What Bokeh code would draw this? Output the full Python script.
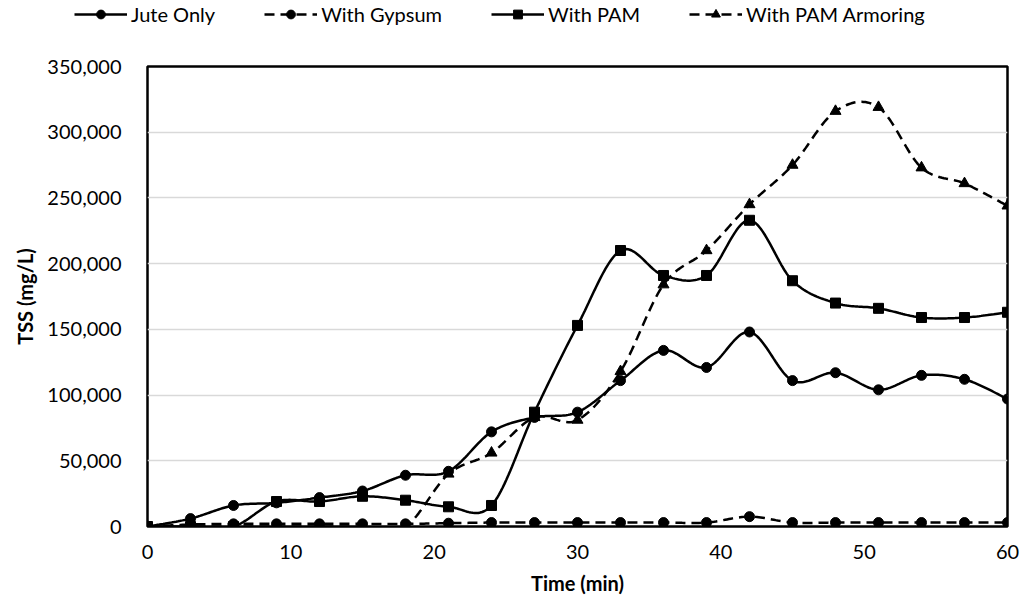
import numpy as np
from bokeh.plotting import figure
from bokeh.layouts import column, row
from bokeh.models import (Legend, LegendItem, NumeralTickFormatter, FixedTicker, Range1d)
from bokeh.embed import file_html
from bokeh.resources import INLINE

# ---- data ----
time_min = [0, 3, 6, 9, 12, 15, 18, 21, 24, 27, 30, 33, 36, 39, 42, 45, 48, 51, 54, 57, 60]
jute_only = [0, 6000, 16000, 18000, 22000, 27000, 39000, 42000, 72000, 83000, 87000,
             111000, 134000, 121000, 148000, 111000, 117000, 104000, 115000, 112000, 97000]
with_gypsum = [0, 1500, 2000, 2000, 2000, 2000, 2000, 2500, 3000, 3000, 3000,
               3000, 3000, 3000, 7500, 3000, 3000, 3000, 3000, 3000, 3000]
with_pam = [0, 0, 0, 19000, 19000, 23000, 20000, 15000, 16000, 87000, 153000,
            210000, 191000, 191000, 233000, 187000, 170000, 166000, 159000, 159000, 163000]
with_pam_armoring = [0, 0, 0, 0, 0, 0, 0, 40000, 56000, 83000, 81000,
                     118000, 184000, 210000, 245000, 275000, 316000, 319000, 273000, 261000, 244000]
y_ticks = [0, 50000, 100000, 150000, 200000, 250000, 300000, 350000]
x_ticks = [0, 10, 20, 30, 40, 50, 60]

series = [
    ("Jute Only", jute_only, "solid", "circle"),
    ("With Gypsum", with_gypsum, "10 6", "circle"),
    ("With PAM", with_pam, "solid", "square"),
    ("With PAM Armoring", with_pam_armoring, "10 6", "triangle"),
]


def smooth(xs, ys, n=24):
    """Excel-like smoothed line (Catmull-Rom as cubic Bezier)."""
    x = np.asarray(xs, float)
    y = np.asarray(ys, float)
    P = np.column_stack([x, y])
    P = np.vstack([P[0], P, P[-1]])
    out = []
    tt = np.linspace(0, 1, n)
    for i in range(1, len(P) - 2):
        p0, p1, p2, p3 = P[i - 1], P[i], P[i + 1], P[i + 2]
        c1 = p1 + (p2 - p0) / 6.0
        c2 = p2 - (p3 - p1) / 6.0
        seg = ((1 - tt) ** 3)[:, None] * p1 + (3 * (1 - tt) ** 2 * tt)[:, None] * c1 \
            + (3 * (1 - tt) * tt ** 2)[:, None] * c2 + (tt ** 3)[:, None] * p2
        if i > 1:
            seg = seg[1:]
        out.append(seg)
    out = np.vstack(out)
    return out[:, 0], out[:, 1]


FONT = "Lato"
LINE_W = 2.5

# ---------------- main chart ----------------
p = figure(width=1024, height=571, x_range=(0, 60), y_range=(0, 350000),
           output_backend="svg", toolbar_location=None,
           min_border_left=147, min_border_right=17, min_border_top=26, min_border_bottom=85)

p.background_fill_color = "white"
p.border_fill_color = "white"
p.outline_line_color = "black"
p.outline_line_width = 2.5

p.xgrid.grid_line_color = None
p.ygrid.grid_line_color = "#d9d9d9"
p.ygrid.grid_line_width = 1.5
p.ygrid.ticker = FixedTicker(ticks=y_ticks)

p.yaxis.ticker = FixedTicker(ticks=y_ticks)
p.yaxis.formatter = NumeralTickFormatter(format="0,0")
p.xaxis.ticker = FixedTicker(ticks=x_ticks)

for ax in (p.xaxis[0], p.yaxis[0]):
    ax.axis_line_color = None
    ax.major_tick_line_color = None
    ax.minor_tick_line_color = None
    ax.major_tick_out = 0
    ax.major_tick_in = 0
    ax.minor_tick_out = 0
    ax.major_label_text_font = FONT
    ax.major_label_text_font_size = "20px"
    ax.major_label_text_color = "#000000"
    ax.axis_label_text_font = FONT
    ax.axis_label_text_font_size = "20px"
    ax.axis_label_text_font_style = "bold"
    ax.axis_label_text_color = "#000000"

p.yaxis.axis_label = "TSS (mg/L)"
p.yaxis.major_label_standoff = 26
p.yaxis.axis_label_standoff = 7
p.xaxis.axis_label = "Time (min)"
p.xaxis.major_label_standoff = 18
p.xaxis.axis_label_standoff = 9

for name, vals, dash, marker in series:
    sx, sy = smooth(time_min, vals)
    p.line(sx, sy, line_color="black", line_width=LINE_W, line_dash=dash)
    p.scatter(time_min, vals, marker=marker, size=10 if marker != "triangle" else 11,
              fill_color="black", line_color="black")

# ---------------- legend strip (same series, ranges put out of view) ----------------
lg = figure(width=1024, height=40, x_range=Range1d(100, 200), y_range=Range1d(-3e6, -2e6),
            output_backend="svg", toolbar_location=None,
            min_border_left=0, min_border_right=0, min_border_top=0, min_border_bottom=0,
            x_axis_type=None, y_axis_type=None)
lg.grid.visible = False
lg.outline_line_color = None
lg.background_fill_color = "white"
lg.border_fill_color = "white"

items = []
for name, vals, dash, marker in series:
    lr = lg.line(time_min, vals, line_color="black", line_width=LINE_W, line_dash=dash)
    mr = lg.scatter(time_min, vals, marker=marker, size=10, fill_color="black", line_color="black")
    items.append(LegendItem(label=name, renderers=[lr, mr]))

legend = Legend(items=items, orientation="horizontal", location=(74, 14),
                label_text_font=FONT, label_text_font_size="20px", label_text_color="#000000",
                glyph_width=53, glyph_height=22, label_standoff=4, spacing=49,
                padding=0, margin=0, border_line_color=None, background_fill_alpha=0)
lg.add_layout(legend, "center")

layout = column(row(lg), p, spacing=0)
open("out.html", "w").write(file_html(layout, INLINE))
